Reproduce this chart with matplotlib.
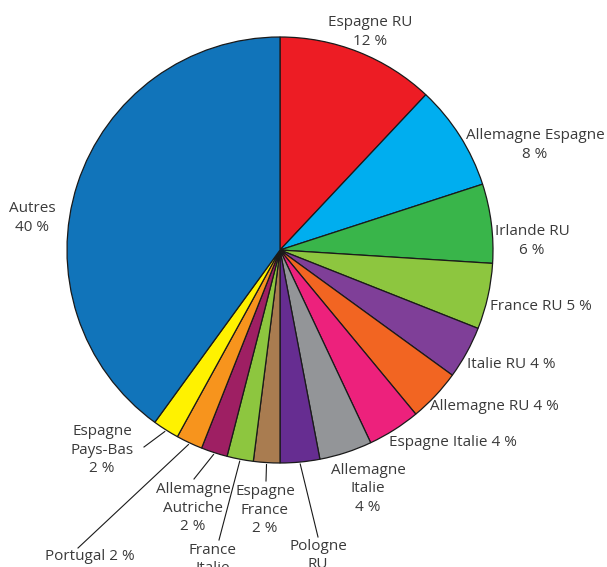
import numpy as np
import matplotlib

matplotlib.use("Agg")
import matplotlib.pyplot as plt

plt.rcParams["font.family"] = ["Open Sans", "DejaVu Sans"]

labels = [
    "Espagne RU", "Allemagne Espagne", "Irlande RU", "France RU", "Italie RU",
    "Allemagne RU", "Espagne Italie", "Allemagne Italie", "Pologne RU",
    "Espagne France", "France Italie", "Allemagne Autriche", "Portugal",
    "Espagne Pays-Bas", "Autres",
]
shares = [12, 8, 6, 5, 4, 4, 4, 4, 3, 2, 2, 2, 2, 2, 40]
colors = [
    "#ED1C24", "#00AEEF", "#39B54A", "#8DC63F", "#7F3F98", "#F26522",
    "#ED217C", "#939598", "#662D91", "#A97C50", "#8DC63F", "#9E1F63",
    "#F7941D", "#FFF200", "#1174BA",
]

W, H = 607, 567
CX, CY, R = 280, 250, 213  # pie centre and radius in pixels (y down)


def px(x, y):
    return x, H - y


fig = plt.figure(figsize=(W / 100, H / 100), dpi=100)
ax = fig.add_axes([0, 0, 1, 1])
wedges, _ = ax.pie(
    shares,
    colors=colors,
    startangle=90,
    counterclock=False,
    center=px(CX, CY),
    radius=R,
    wedgeprops={"edgecolor": "#1a1a1a", "linewidth": 0.9},
)
ax.set_xlim(0, W)
ax.set_ylim(0, H)
ax.set_aspect("equal")
ax.axis("off")

# label text, position (pixel, y down), alignment, leader end (or None)
layout = {
    "Espagne RU": ("Espagne RU\n12 %", (370, 32), "center", None),
    "Allemagne Espagne": ("Allemagne Espagne\n8 %", (535, 145), "center", None),
    "Irlande RU": ("Irlande RU\n6 %", (532, 241), "center", None),
    "France RU": ("France RU 5 %", (490, 307), "left", None),
    "Italie RU": ("Italie RU 4 %", (467, 365), "left", None),
    "Allemagne RU": ("Allemagne RU 4 %", (430, 407), "left", None),
    "Espagne Italie": ("Espagne Italie 4 %", (389, 442), "left", None),
    "Allemagne Italie": ("Allemagne\nItalie\n4 %", (368, 489), "center", None),
    "Pologne RU": ("Pologne\nRU\n3 %", (318, 565), "center", (318, 537)),
    "Espagne France": ("Espagne\nFrance\n2 %", (265, 510), "center", (266, 481)),
    "France Italie": ("France\nItalie\n2 %", (213, 569), "center", (219, 540)),
    "Allemagne Autriche": ("Allemagne\nAutriche\n2 %", (193, 508), "center", (194, 479)),
    "Portugal": ("Portugal 2 %", (90, 556), "center", (78, 548)),
    "Espagne Pays-Bas": ("Espagne\nPays-Bas\n2 %", (102, 450), "center", (144, 447)),
    "Autres": ("Autres\n40 %", (32, 218), "center", None),
}

for wedge, name in zip(wedges, labels):
    text, (tx, ty), ha, leader = layout[name]
    if leader is not None:
        mid = np.deg2rad((wedge.theta1 + wedge.theta2) / 2)
        x0 = CX + (R + 2) * np.cos(mid)
        y0 = CY - (R + 2) * np.sin(mid)
        ax.plot(*zip(px(x0, y0), px(*leader)), color="#1a1a1a", lw=0.8)
    ax.text(*px(tx, ty), text, ha=ha, va="center", fontsize=11,
            color="#3a3a3a", linespacing=1.3, multialignment="center")

fig.savefig("out.png", dpi=100)
